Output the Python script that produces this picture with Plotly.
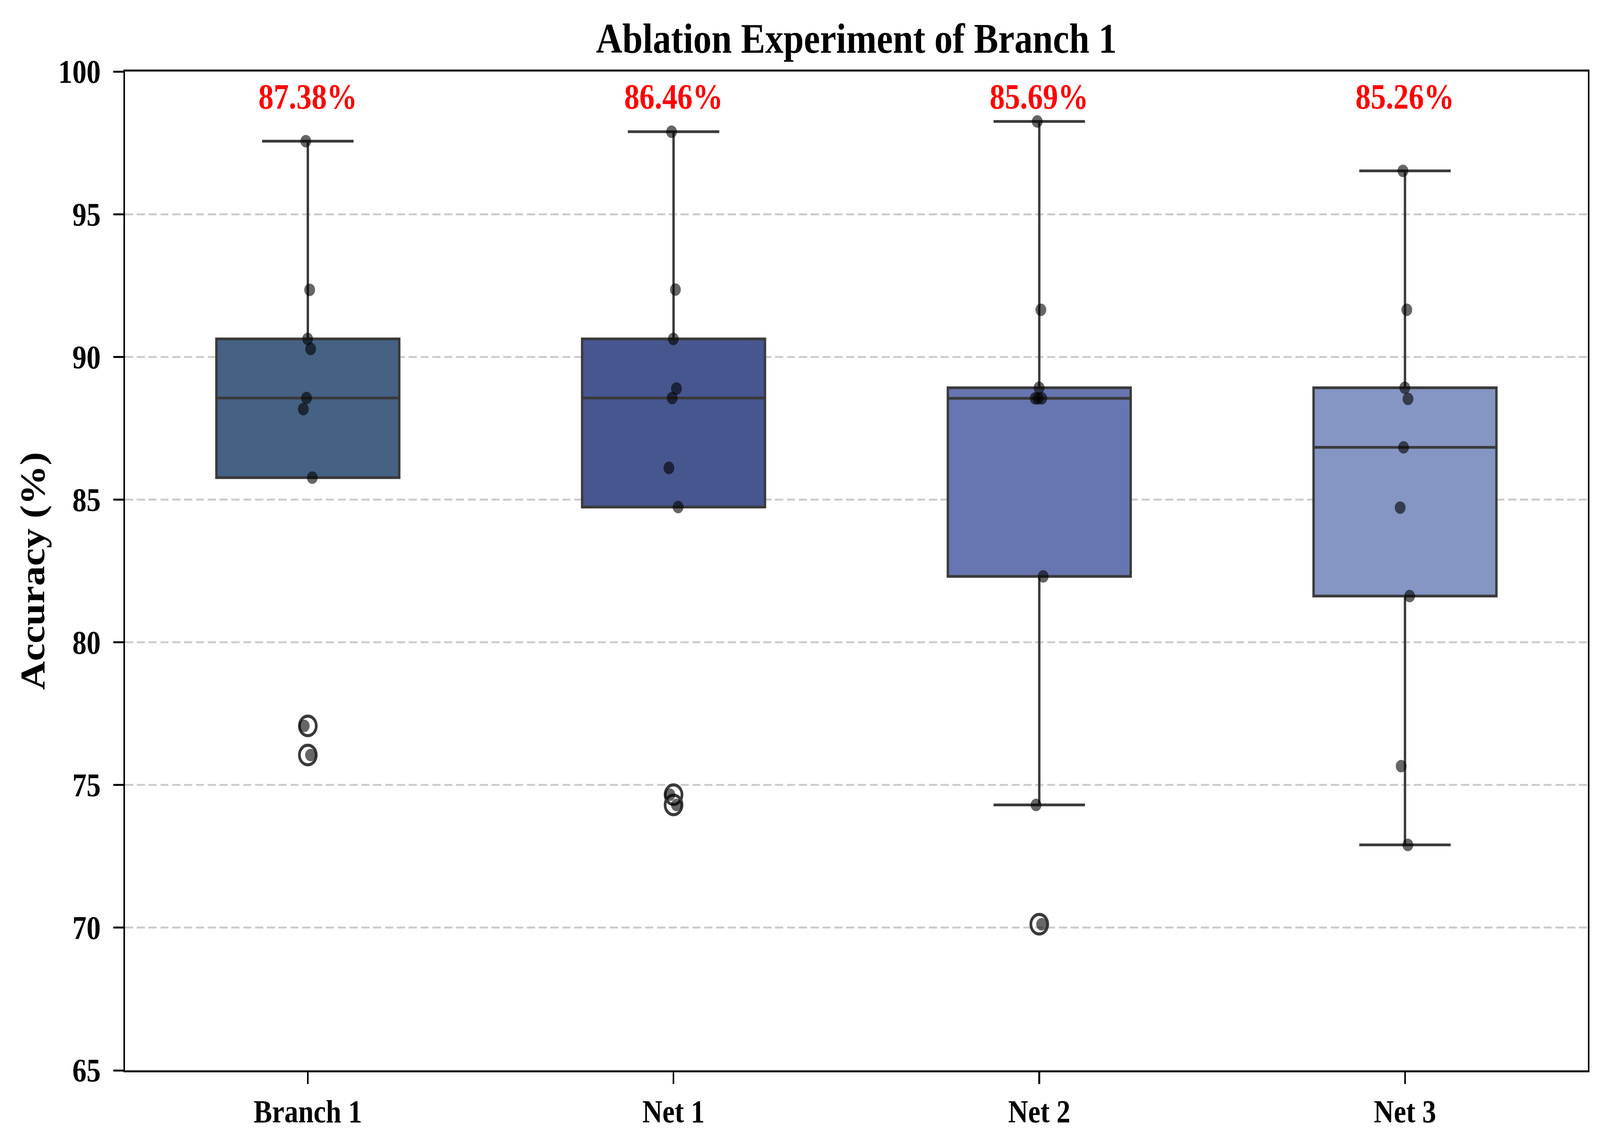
import numpy as np
import plotly.graph_objects as go

categories = ["Branch 1", "Net 1", "Net 2", "Net 3"]
branch1 = [97.56, 92.35, 90.63, 90.28, 88.56, 88.17, 85.77, 77.07, 76.05]
net1 = [97.89, 92.36, 90.63, 88.89, 88.56, 86.11, 84.74, 74.66, 74.30]
net2 = [98.25, 91.65, 88.92, 88.55, 88.55, 88.55, 82.31, 74.30, 70.12]
net3 = [96.52, 91.65, 88.92, 88.53, 86.83, 84.72, 81.62, 75.66, 72.90]
series = [branch1, net1, net2, net3]
box_colors = ["#456184", "#46568f", "#6775b0", "#8596c4"]
y_ticks = [65, 70, 75, 80, 85, 90, 95, 100]

FONT = "Liberation Serif"
EDGE = "#3a3a3a"
W, H = 4737, 2930

fig = go.Figure()

# boxes with outliers (open circles)
for cat, vals, col in zip(categories, series, box_colors):
    fig.add_trace(go.Box(
        x=[cat] * len(vals), y=vals,
        quartilemethod="inclusive",
        boxpoints="outliers", pointpos=0, jitter=0,
        width=0.5, whiskerwidth=0.5,
        fillcolor=col,
        line=dict(color=EDGE, width=7),
        marker=dict(symbol="circle-open", size=50, color=EDGE,
                    line=dict(width=8, color=EDGE)),
        showlegend=False, hoverinfo="skip",
    ))

# strip points over the boxes (invisible box, all points shown)
for cat, vals in zip(categories, series):
    fig.add_trace(go.Box(
        x=[cat] * len(vals), y=vals,
        quartilemethod="inclusive",
        boxpoints="all", pointpos=0, jitter=0.07,
        width=0.5, whiskerwidth=0,
        fillcolor="rgba(0,0,0,0)",
        line=dict(color="rgba(0,0,0,0)", width=0),
        marker=dict(symbol="circle", size=32, color="rgba(0,0,0,0.6)",
                    line=dict(width=0)),
        showlegend=False, hoverinfo="skip",
    ))

# mean labels
for cat, vals in zip(categories, series):
    m = float(np.mean(vals))
    fig.add_annotation(
        x=cat, y=99.12, xref="x", yref="y",
        text=f"{m:.2f}%", showarrow=False, yanchor="middle",
        font=dict(family=FONT, size=90, color="#ff0000", weight="bold"),
    )

fig.update_layout(
    width=W, height=H,
    margin=dict(l=370, r=36, t=183, b=191),
    paper_bgcolor="white", plot_bgcolor="white",
    boxmode="overlay",
    font=dict(family=FONT, color="black"),
    title=dict(
        text="Ablation Experiment of Branch 1",
        x=0.5, xref="paper", xanchor="center",
        y=1 - 97 / H, yref="container", yanchor="middle",
        font=dict(family=FONT, size=108, color="black", weight="bold"),
    ),
)

fig.update_xaxes(
    type="category", categoryorder="array", categoryarray=categories,
    range=[-0.5, 3.5],
    showgrid=False, zeroline=False,
    showline=True, linecolor="black", linewidth=5, mirror=True,
    ticks="outside", ticklen=30, tickwidth=5, tickcolor="black",
    tickfont=dict(family=FONT, size=82, color="black", weight="bold"),
)

fig.update_yaxes(
    range=[65, 100], tickmode="array", tickvals=y_ticks,
    ticktext=[str(t) for t in y_ticks],
    showgrid=True, gridcolor="#cccccc", gridwidth=5, griddash="24px,11px",
    zeroline=False,
    showline=True, linecolor="black", linewidth=5, mirror=True,
    ticks="outside", ticklen=30, tickwidth=5, tickcolor="black",
    ticklabelstandoff=20,
    tickfont=dict(family=FONT, size=84, color="black", weight="bold"),
    title=dict(text="Accuracy (%)", standoff=8,
               font=dict(family=FONT, size=102, color="black", weight="bold")),
)

# fit the fixed-size figure exactly into the browser viewport
post = (
    "var gd=document.getElementById('{plot_id}');"
    "document.documentElement.style.margin='0';"
    "document.documentElement.style.overflow='hidden';"
    "document.body.style.margin='0';"
    "document.body.style.overflow='hidden';"
    "var sx=window.innerWidth/%d, sy=window.innerHeight/%d;"
    "gd.style.transformOrigin='0 0';"
    "gd.style.transform='scale('+sx+','+sy+')';"
) % (W, H)

fig.write_html("out.html", post_script=post,
               config={"displayModeBar": False, "staticPlot": True})
